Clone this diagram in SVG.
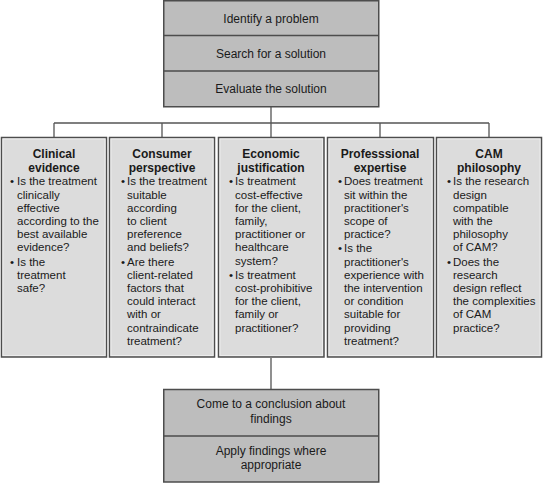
<svg xmlns="http://www.w3.org/2000/svg" width="543" height="483" viewBox="0 0 543 483">
<style>
.dark{fill:#bdbdbd;stroke:#4d4d4d;stroke-width:1.5}
.light{fill:#dcdcdc;stroke:#4d4d4d;stroke-width:1.5}
.hl{fill:none;stroke:#ececec;stroke-width:1}
.div{stroke:#4d4d4d;stroke-width:1.5}
.t{font-family:"Liberation Sans",Arial,sans-serif;font-size:12px;fill:#1a1a1a;text-anchor:middle}
.h{font-family:"Liberation Sans",Arial,sans-serif;font-size:12px;font-weight:bold;fill:#1a1a1a;text-anchor:middle}
.b{font-family:"Liberation Sans",Arial,sans-serif;font-size:11.5px;fill:#1a1a1a}
.con{stroke:#555;stroke-width:1.3;fill:none}
</style>
<rect width="543" height="483" fill="#fff"/>
<g id="connectors">
<path class="con" d="M271 107V123M54 123H489M54 123V137M162 123V137M271 123V137M380 123V137M489 123V137M271 358V389"/>
</g>
<g id="top">
<rect class="dark" x="163.75" y="0.75" width="215" height="106"/>
<line class="div" x1="163.75" y1="35.5" x2="378.75" y2="35.5"/>
<line class="div" x1="163.75" y1="71" x2="378.75" y2="71"/>
<text class="t" x="271" y="23">Identify a problem</text>
<text class="t" x="271" y="58">Search for a solution</text>
<text class="t" x="271" y="93">Evaluate the solution</text>
</g>
<g id="clinical">
<rect class="light" x="1.5" y="137.5" width="105" height="219.5"/>
<rect class="hl" x="3" y="139" width="102" height="216.5"/>
<text class="h" x="54" y="158">Clinical</text>
<text class="h" x="54" y="172">evidence</text>
<text class="b" x="10" y="185.3">•</text>
<text class="b" x="17" y="185.3">Is the treatment</text>
<text class="b" x="17" y="198.5">clinically</text>
<text class="b" x="17" y="211.7">effective</text>
<text class="b" x="17" y="224.9">according to the</text>
<text class="b" x="17" y="238.1">best available</text>
<text class="b" x="17" y="251.3">evidence?</text>
<text class="b" x="10" y="265.5">•</text>
<text class="b" x="17" y="265.5">Is the</text>
<text class="b" x="17" y="278.7">treatment</text>
<text class="b" x="17" y="291.9">safe?</text>
</g>
<g id="consumer">
<rect class="light" x="109.5" y="137.5" width="105" height="219.5"/>
<rect class="hl" x="111" y="139" width="102" height="216.5"/>
<text class="h" x="162" y="158">Consumer</text>
<text class="h" x="162" y="172">perspective</text>
<text class="b" x="121" y="185.3">•</text>
<text class="b" x="127" y="185.3">Is the treatment</text>
<text class="b" x="127" y="198.5">suitable</text>
<text class="b" x="127" y="211.7">according</text>
<text class="b" x="127" y="224.9">to client</text>
<text class="b" x="127" y="238.1">preference</text>
<text class="b" x="127" y="251.3">and beliefs?</text>
<text class="b" x="121" y="265.5">•</text>
<text class="b" x="127" y="265.5">Are there</text>
<text class="b" x="127" y="278.7">client-related</text>
<text class="b" x="127" y="291.9">factors that</text>
<text class="b" x="127" y="305.1">could interact</text>
<text class="b" x="127" y="318.3">with or</text>
<text class="b" x="127" y="331.5">contraindicate</text>
<text class="b" x="127" y="344.7">treatment?</text>
</g>
<g id="economic">
<rect class="light" x="218.5" y="137.5" width="105.5" height="219.5"/>
<rect class="hl" x="220" y="139" width="102.5" height="216.5"/>
<text class="h" x="271" y="158">Economic</text>
<text class="h" x="271" y="172">justification</text>
<text class="b" x="229" y="185.3">•</text>
<text class="b" x="235" y="185.3">Is treatment</text>
<text class="b" x="235" y="198.5">cost-effective</text>
<text class="b" x="235" y="211.7">for the client,</text>
<text class="b" x="235" y="224.9">family,</text>
<text class="b" x="235" y="238.1">practitioner or</text>
<text class="b" x="235" y="251.3">healthcare</text>
<text class="b" x="235" y="264.5">system?</text>
<text class="b" x="229" y="278.7">•</text>
<text class="b" x="235" y="278.7">Is treatment</text>
<text class="b" x="235" y="291.9">cost-prohibitive</text>
<text class="b" x="235" y="305.1">for the client,</text>
<text class="b" x="235" y="318.3">family or</text>
<text class="b" x="235" y="331.5">practitioner?</text>
</g>
<g id="professional">
<rect class="light" x="327.5" y="137.5" width="106" height="219.5"/>
<rect class="hl" x="329" y="139" width="103" height="216.5"/>
<text class="h" x="380" y="158">Professsional</text>
<text class="h" x="380" y="172">expertise</text>
<text class="b" x="338" y="185.3">•</text>
<text class="b" x="344" y="185.3">Does treatment</text>
<text class="b" x="344" y="198.5">sit within the</text>
<text class="b" x="344" y="211.7">practitioner's</text>
<text class="b" x="344" y="224.9">scope of</text>
<text class="b" x="344" y="238.1">practice?</text>
<text class="b" x="338" y="252.3">•</text>
<text class="b" x="344" y="252.3">Is the</text>
<text class="b" x="344" y="265.5">practitioner's</text>
<text class="b" x="344" y="278.7">experience with</text>
<text class="b" x="344" y="291.9">the intervention</text>
<text class="b" x="344" y="305.1">or condition</text>
<text class="b" x="344" y="318.3">suitable for</text>
<text class="b" x="344" y="331.5">providing</text>
<text class="b" x="344" y="344.7">treatment?</text>
</g>
<g id="cam">
<rect class="light" x="436.5" y="137.5" width="105" height="219.5"/>
<rect class="hl" x="438" y="139" width="102" height="216.5"/>
<text class="h" x="489" y="158">CAM</text>
<text class="h" x="489" y="172">philosophy</text>
<text class="b" x="447" y="185.3">•</text>
<text class="b" x="453" y="185.3">Is the research</text>
<text class="b" x="453" y="198.5">design</text>
<text class="b" x="453" y="211.7">compatible</text>
<text class="b" x="453" y="224.9">with the</text>
<text class="b" x="453" y="238.1">philosophy</text>
<text class="b" x="453" y="251.3">of CAM?</text>
<text class="b" x="447" y="265.5">•</text>
<text class="b" x="453" y="265.5">Does the</text>
<text class="b" x="453" y="278.7">research</text>
<text class="b" x="453" y="291.9">design reflect</text>
<text class="b" x="453" y="305.1">the complexities</text>
<text class="b" x="453" y="318.3">of CAM</text>
<text class="b" x="453" y="331.5">practice?</text>
</g>
<g id="bottom">
<rect class="dark" x="163.75" y="389.5" width="215" height="92.5"/>
<line class="div" x1="163.75" y1="436" x2="378.75" y2="436"/>
<text class="t" x="271" y="408">Come to a conclusion about</text>
<text class="t" x="271" y="423">findings</text>
<text class="t" x="271" y="455">Apply findings where</text>
<text class="t" x="271" y="469">appropriate</text>
</g>
</svg>
